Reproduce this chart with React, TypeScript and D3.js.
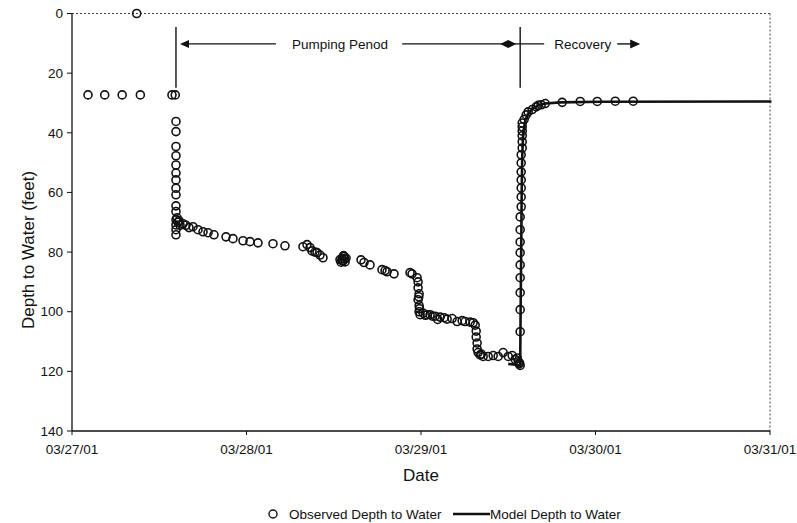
import React from "react";
import * as d3 from "d3";

// Hours since 03/27/01 00:00 and depth to water (feet)
const obsHours: number[] = [
  2.2, 4.5, 6.9, 9.4, 13.75, 14.2,
  8.9,
  14.3, 14.3, 14.3, 14.3, 14.3, 14.3, 14.3, 14.3, 14.3, 14.3, 14.3, 14.3, 14.3, 14.3, 14.3,
  14.44, 14.58, 14.72, 14.85,
  15.27, 15.68, 16.09, 16.64, 17.33, 18.02, 18.71, 19.53, 21.18, 22.14, 23.52, 24.48, 25.58, 27.64, 29.29, 31.77, 32.32, 32.74, 33.01, 33.42, 33.7, 34.11, 34.52,
  36.86, 37.14, 37.27, 37.41, 37.55, 37.69, 37.0, 37.35, 37.5, 37.2, 39.75, 40.16, 40.99, 42.64, 43.06, 43.33, 44.29, 46.49,
  46.77, 47.46, 47.6, 47.6, 47.74, 47.6, 47.74, 47.74, 47.88, 47.7, 47.8,
  48.29, 48.84, 49.25, 49.94, 50.63, 51.18, 51.59, 52.28, 52.97, 53.66, 54.07, 54.76, 55.17, 48.6, 49.6, 50.3,
  55.45, 55.59, 55.59, 55.72, 55.72, 55.86,
  56.13, 56.55, 57.24, 57.93, 58.61, 59.3, 60.0, 60.54, 60.96, 61.23, 61.5, 56.3, 61.4, 61.55,
  61.64, 61.64, 61.64, 61.64, 61.64, 61.64, 61.64, 61.64, 61.64, 61.64, 61.78, 61.78, 61.78, 61.78, 61.78, 61.78, 61.78, 61.92, 61.92, 61.92, 61.92, 61.92, 61.92,
  62.19, 62.47, 62.74, 63.29, 63.84, 64.12, 64.53, 65.08, 67.42, 69.9, 72.24, 74.72, 77.19,
];
const obsDepth: number[] = [
  27.3, 27.3, 27.3, 27.3, 27.3, 27.3,
  0,
  36.2, 39.6, 44.6, 47.7, 50.8, 53.5, 55.8, 58.6, 60.8, 64.5, 66.4, 69.2, 70.9, 72.5, 74.2,
  68.5, 70.0, 69.5, 71.0,
  70.5, 71.0, 71.8, 71.5, 72.5, 73.2, 73.5, 74.2, 74.9, 75.5, 76.2, 76.5, 76.9, 77.2, 77.9, 78.2, 77.5, 78.5, 79.6, 80.0, 80.2, 81.0, 81.9,
  82.5, 82.2, 83.0, 81.5, 83.3, 82.0, 83.4, 81.2, 82.4, 82.9, 82.6, 83.5, 84.3, 85.9, 86.2, 86.6, 87.3, 86.9,
  87.3, 88.6, 90, 92, 94, 96, 98, 100, 101, 95, 99,
  100.5, 101, 101, 101.5, 101.8, 102, 102.5, 102.3, 103.3, 103, 103.3, 103.5, 103.7, 101.2, 101.5, 102.6,
  104.5, 106.5, 108.5, 110.5, 112.5, 113.7,
  114.5, 115, 115, 114.7, 115, 113.7, 115, 114.7, 116, 115.5, 117.5, 114.2, 116.8, 117.2,
  118, 106.7, 99.3, 93.6, 88.6, 84.3, 80.2, 76.6, 72.5, 68.2, 64.8, 61.5, 58.5, 55.8, 53.1, 50.1, 47.4, 45.1, 43, 41, 39.4, 38, 36.7, 35.5,
  34, 33, 32.2, 31.3, 30.8, 30.6, 30.2, 29.8, 29.5, 29.5, 29.4, 29.4, 29.4,
];

const modelHours: number[] = [60.0, 61.0, 61.64, 61.7, 61.78, 61.85, 61.92, 62.06, 62.33, 62.74, 63.29, 64.12, 65.08, 67.15, 72.65, 96.2];
const modelDepth: number[] = [117.5, 117.8, 118, 100, 80, 60, 48, 40, 36, 33.5, 32, 30.8, 30.2, 29.8, 29.6, 29.5];

const dayTicks: string[] = ["03/27/01", "03/28/01", "03/29/01", "03/30/01", "03/31/01"];
const depthTicks: number[] = [0, 20, 40, 60, 80, 100, 120, 140];

const pumpStartHours = 14.3;
const recoveryStartHours = 61.64;

const base = new Date(2001, 2, 27, 0, 0, 0);
const toDate = (h: number) => new Date(base.getTime() + h * 3600 * 1000);

export default function App() {
  const W = 797, H = 523;
  const left = 72, right = 770, top = 13.5, bottom = 431;
  const x = d3.scaleTime().domain([base, toDate(96)]).range([left, right]);
  const y = d3.scaleLinear().domain([0, 140]).range([top, bottom]);
  const font = "'Liberation Sans', Arial, sans-serif";
  const ink = "#111";

  const line = d3
    .line<number>()
    .x((_, i) => x(toDate(modelHours[i])))
    .y((_, i) => y(modelDepth[i]));

  const annY = y(10.2);
  const xp = x(toDate(pumpStartHours));
  const xr = x(toDate(recoveryStartHours));
  const lineTop = y(4.5);
  const lineBot = y(24.9);

  return (
    <svg width={W} height={H} style={{ position: "absolute", left: 0, top: 0, background: "#fff" }} fontFamily={font}>
      {/* plot frame: dotted top/right */}
      <line x1={left} x2={right} y1={top} y2={top} stroke="#444" strokeWidth={1} strokeDasharray="2,2" />
      <line x1={right} x2={right} y1={top} y2={bottom} stroke="#444" strokeWidth={1} strokeDasharray="2,2" />
      {/* axes */}
      <line x1={left} x2={left} y1={top} y2={bottom} stroke={ink} strokeWidth={1.3} />
      <line x1={left} x2={right} y1={bottom} y2={bottom} stroke={ink} strokeWidth={1.3} />
      {depthTicks.map((t) => (
        <g key={t}>
          <line x1={left - 5} x2={left} y1={y(t)} y2={y(t)} stroke={ink} strokeWidth={1} />
          <text x={left - 9} y={y(t)} dy="0.35em" textAnchor="end" fontSize={13.5} fill={ink}>
            {t}
          </text>
        </g>
      ))}
      {dayTicks.map((lab, i) => (
        <g key={lab}>
          <line x1={x(toDate(i * 24))} x2={x(toDate(i * 24))} y1={bottom} y2={bottom + 4} stroke={ink} strokeWidth={1} />
          <text x={x(toDate(i * 24))} y={bottom + 23} textAnchor="middle" fontSize={13.5} fill={ink}>
            {lab}
          </text>
        </g>
      ))}
      <text x={(left + right) / 2} y={481} textAnchor="middle" fontSize={17} fill={ink}>
        Date
      </text>
      <text transform={`translate(34,250) rotate(-90)`} textAnchor="middle" fontSize={17} fill={ink}>
        Depth to Water (feet)
      </text>

      {/* annotations */}
      <line x1={xp} x2={xp} y1={lineTop} y2={lineBot} stroke={ink} strokeWidth={1.4} />
      <line x1={xr} x2={xr} y1={lineTop} y2={lineBot} stroke={ink} strokeWidth={1.4} />
      <line x1={xp + 6} x2={xp + 100} y1={annY} y2={annY} stroke={ink} strokeWidth={1.2} />
      <path d={`M${xp + 4},${annY} l9,-4 l0,8 z`} fill={ink} />
      <text x={(xp + xr) / 2 - 8} y={annY} dy="0.35em" textAnchor="middle" fontSize={13.5} fill={ink}>
        Pumping Penod
      </text>
      <line x1={xr - 118} x2={xr + 24} y1={annY} y2={annY} stroke={ink} strokeWidth={1.2} />
      <path d={`M${xr - 20},${annY} l8,-4 l8,4 l-8,4 z`} fill={ink} />
      <text x={xr + 34} y={annY} dy="0.35em" fontSize={13.5} fill={ink}>
        Recovery
      </text>
      <line x1={xr + 97} x2={xr + 112} y1={annY} y2={annY} stroke={ink} strokeWidth={1.4} />
      <path d={`M${xr + 120},${annY} l-10,-4.5 l0,9 z`} fill={ink} />

      {/* model line */}
      <path d={line(modelHours) || ""} fill="none" stroke={ink} strokeWidth={2.6} strokeLinejoin="round" />

      {/* observed */}
      {obsHours.map((h, i) => (
        <circle key={i} cx={x(toDate(h))} cy={y(obsDepth[i])} r={4} fill="none" stroke={ink} strokeWidth={1.6} />
      ))}

      {/* legend */}
      <circle cx={273} cy={514} r={4} fill="none" stroke={ink} strokeWidth={1.4} />
      <text x={289} y={514} dy="0.35em" fontSize={13.5} fill={ink}>
        Observed Depth to Water
      </text>
      <line x1={453} x2={490} y1={514} y2={514} stroke={ink} strokeWidth={2.6} />
      <text x={490} y={514} dy="0.35em" fontSize={13.5} fill={ink}>
        Model Depth to Water
      </text>
    </svg>
  );
}
